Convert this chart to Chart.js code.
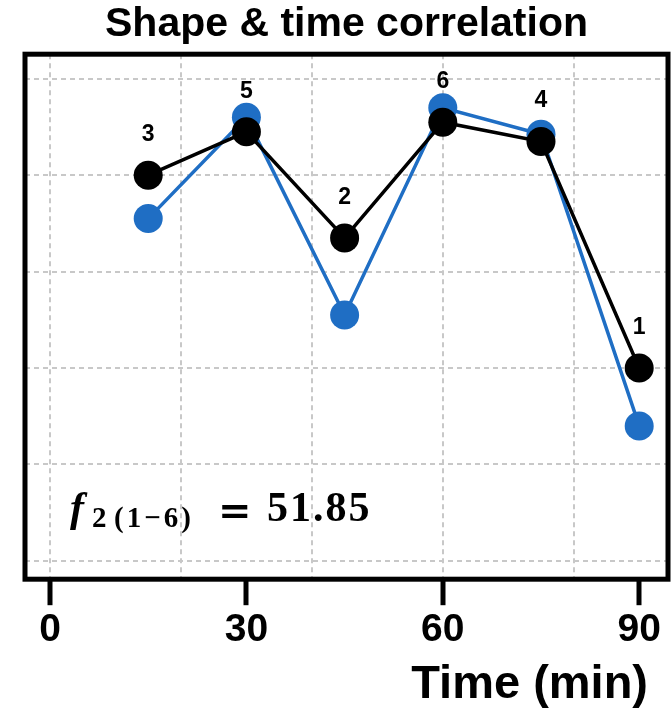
<!DOCTYPE html>
<html>
<head>
<meta charset="utf-8">
<script src="https://cdn.jsdelivr.net/npm/chart.js@4/dist/chart.umd.min.js"></script>
<style>
	body { margin: 0; background: #fff; }
	#wrap { width: 671px; height: 714px; }
</style>
</head>
<body>
<div id="wrap"><canvas id="chart" width="671" height="714"></canvas></div>
<script>
var times = [15, 30, 45, 60, 75, 90];					//время отбора (мин)
var blackValues = [80, 89, 67, 91, 87, 40];				//чёрная кривая
var blueValues = [71, 92, 51, 94, 88.5, 28];			//синяя кривая
var rankLabels = ['3', '5', '2', '6', '4', '1'];		//номера над точками
var xTickLabels = [0, 30, 60, 90];						//подписи оси X
var titleText = 'Shape & time correlation';
var xTitleText = 'Time (min)';
var f2Value = '51.85';

var BLUE = '#1f6ec4';
var GRID = '#c8c8c8';

function toPoints(values) {
	return values.map(function (v, i) { return {x: times[i], y: v}; });
}

var framePlugin = {										//рамка вокруг области графика
	id: 'frame',
	afterDatasetsDraw: function (chart) {
		var a = chart.chartArea, ctx = chart.ctx;
		ctx.save();
		ctx.strokeStyle = '#000';
		ctx.lineWidth = 5;
		ctx.strokeRect(a.left, a.top, a.right - a.left, a.bottom - a.top);
		ctx.restore();
	}
};

var labelsPlugin = {									//цифры над чёрными точками, f2 и подпись оси
	id: 'labels',
	afterDraw: function (chart) {
		var ctx = chart.ctx, a = chart.chartArea;
		var meta = chart.getDatasetMeta(0);
		ctx.save();
		ctx.fillStyle = '#000';
		ctx.textAlign = 'center';
		ctx.textBaseline = 'alphabetic';
		ctx.font = 'bold 23px "Liberation Sans", Arial, sans-serif';
		meta.data.forEach(function (pt, i) {
			ctx.fillText(rankLabels[i], pt.x, pt.y - 34);
		});

		//f2 (1-6) = 51.85
		ctx.textAlign = 'left';
		ctx.font = 'italic bold 42px "Liberation Serif", serif';
		ctx.fillText('f', a.left + 45, a.bottom - 58);
		ctx.font = 'bold 29px "Liberation Serif", serif';
		ctx.fillText('2', a.left + 67, a.bottom - 52);
		ctx.letterSpacing = '3px';
		ctx.fillText('(1\u22126)', a.left + 89, a.bottom - 52);
		ctx.letterSpacing = '0px';
		ctx.font = 'bold 40px "DejaVu Serif", serif';
		ctx.fillText('=', a.left + 193, a.bottom - 55);
		ctx.font = 'bold 42px "Liberation Serif", serif';
		ctx.letterSpacing = '2px';
		ctx.fillText(f2Value, a.left + 242, a.bottom - 58);
		ctx.letterSpacing = '0px';

		//подпись оси X
		ctx.textAlign = 'right';
		ctx.font = 'bold 47px "Liberation Sans", Arial, sans-serif';
		ctx.fillText(xTitleText, 648, 698);
		ctx.restore();
	}
};

var ctx = document.getElementById('chart').getContext('2d');
var myChart = new Chart(ctx, {
	type: 'line',
	data: {
		datasets: [{
			label: 'black',
			data: toPoints(blackValues),
			borderColor: '#000',
			backgroundColor: '#000',
			borderWidth: 3.5,
			pointRadius: 14.5,
			pointHoverRadius: 14.5,
			pointBorderWidth: 0
		}, {
			label: 'blue',
			data: toPoints(blueValues),
			borderColor: BLUE,
			backgroundColor: BLUE,
			borderWidth: 3.5,
			pointRadius: 14.5,
			pointHoverRadius: 14.5,
			pointBorderWidth: 0
		}]
	},
	options: {
		responsive: false,
		animation: false,
		layout: { autoPadding: false, padding: { left: 25, right: 3, top: 0, bottom: 58 } },
		plugins: {
			legend: { display: false },
			tooltip: { enabled: false },
			title: {
				display: true,
				text: titleText,
				color: '#000',
				font: { family: '"Liberation Sans", Arial, sans-serif', size: 41, weight: 'bold' },
				padding: { top: 0, bottom: 5 }
			}
		},
		scales: {
			x: {
				type: 'linear',
				min: -3.82,
				max: 94.4,
				afterFit: function (scale) { scale.paddingLeft = 0; scale.paddingRight = 0; },
				border: { display: false, dash: [5, 4] },
				grid: {
					color: function (c) { return c.tick && c.tick.value % 20 === 0 ? GRID : 'rgba(0,0,0,0)'; },
					lineWidth: 2,
					tickColor: function (c) { return c.tick && xTickLabels.indexOf(c.tick.value) >= 0 ? '#000' : 'rgba(0,0,0,0)'; },
					tickWidth: 5,
					tickLength: 26,
					tickBorderDash: []
				},
				ticks: {
					stepSize: 10,
					includeBounds: false,
					autoSkip: false,
					maxRotation: 0,
					padding: 2,
					color: '#000',
					font: { family: '"Liberation Sans", Arial, sans-serif', size: 39, weight: 'bold' },
					callback: function (v) { return xTickLabels.indexOf(v) >= 0 ? String(v) : ''; }
				}
			},
			y: {
				min: -3.8,
				max: 105.1,
				border: { display: false, dash: [5, 4] },
				grid: { color: GRID, lineWidth: 2, drawTicks: false },
				ticks: { display: false, stepSize: 20, includeBounds: false }
			}
		}
	},
	plugins: [framePlugin, labelsPlugin]
});
</script>
</body>
</html>
